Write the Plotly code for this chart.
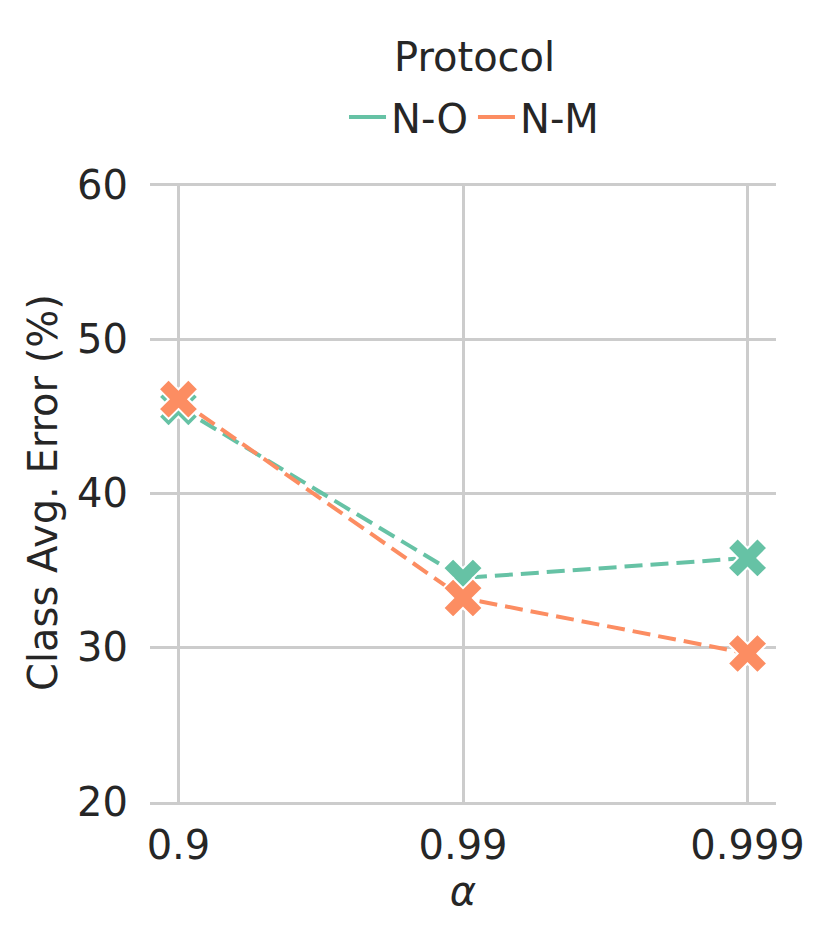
import plotly.graph_objects as go

# Data ==========================================================================
alphas = ["0.9", "0.99", "0.999"]
protocols = ["N-O", "N-M"]
err_no = [45.6, 34.5, 35.8]
err_nm = [46.1, 33.2, 29.6]
y_ticks = [20, 30, 40, 50, 60]

colors = {"N-O": "#66c2a5", "N-M": "#fc8d62"}
TEXT = "#262626"
GRID = "#cccccc"
FONT = "DejaVu Sans"

fig = go.Figure()

for name, vals in zip(protocols, [err_no, err_nm]):
    fig.add_trace(go.Scatter(
        x=alphas, y=vals, name=name, mode="lines+markers",
        showlegend=False,
        line=dict(color=colors[name], width=4, dash="18px,8px"),
        marker=dict(symbol="x", size=35, color=colors[name],
                    line=dict(color="white", width=2)),
    ))
    # solid legend handle, seaborn style
    fig.add_trace(go.Scatter(
        x=[None], y=[None], name=name, mode="lines",
        line=dict(color=colors[name], width=4),
    ))

# legend title drawn as an annotation so its spacing can be set
fig.add_annotation(
    text="Protocol", xref="paper", yref="paper",
    x=0.519, y=1.2036, xanchor="center", yanchor="middle",
    showarrow=False, font=dict(size=40, color=TEXT),
)

fig.update_layout(
    width=813, height=925,
    paper_bgcolor="white", plot_bgcolor="white",
    margin=dict(l=142, r=45, t=175, b=131),
    font=dict(family=FONT, size=40, color=TEXT),
    legend=dict(
        orientation="h", x=0.5176, xanchor="center", y=1.1066, yanchor="middle",
        font=dict(size=40), itemwidth=37,
        bgcolor="rgba(0,0,0,0)",
    ),
    xaxis=dict(
        type="category", range=[-0.1, 2.1],
        showgrid=True, gridcolor=GRID, gridwidth=2.5,
        showline=True, linecolor=GRID, linewidth=3,
        ticks="outside", ticklen=6, tickcolor="rgba(0,0,0,0)",
        title=dict(text="<i>α</i>", standoff=8, font=dict(size=40)),
        tickfont=dict(size=40),
    ),
    yaxis=dict(
        range=[19.97, 60.12], tickvals=y_ticks,
        showgrid=True, gridcolor=GRID, gridwidth=2.5, zeroline=False,
        ticks="outside", ticklen=13, tickcolor="rgba(0,0,0,0)",
        title=dict(text="Class Avg. Error (%)", standoff=7, font=dict(size=40)),
        tickfont=dict(size=40),
    ),
)

fig.write_html("out.html")
